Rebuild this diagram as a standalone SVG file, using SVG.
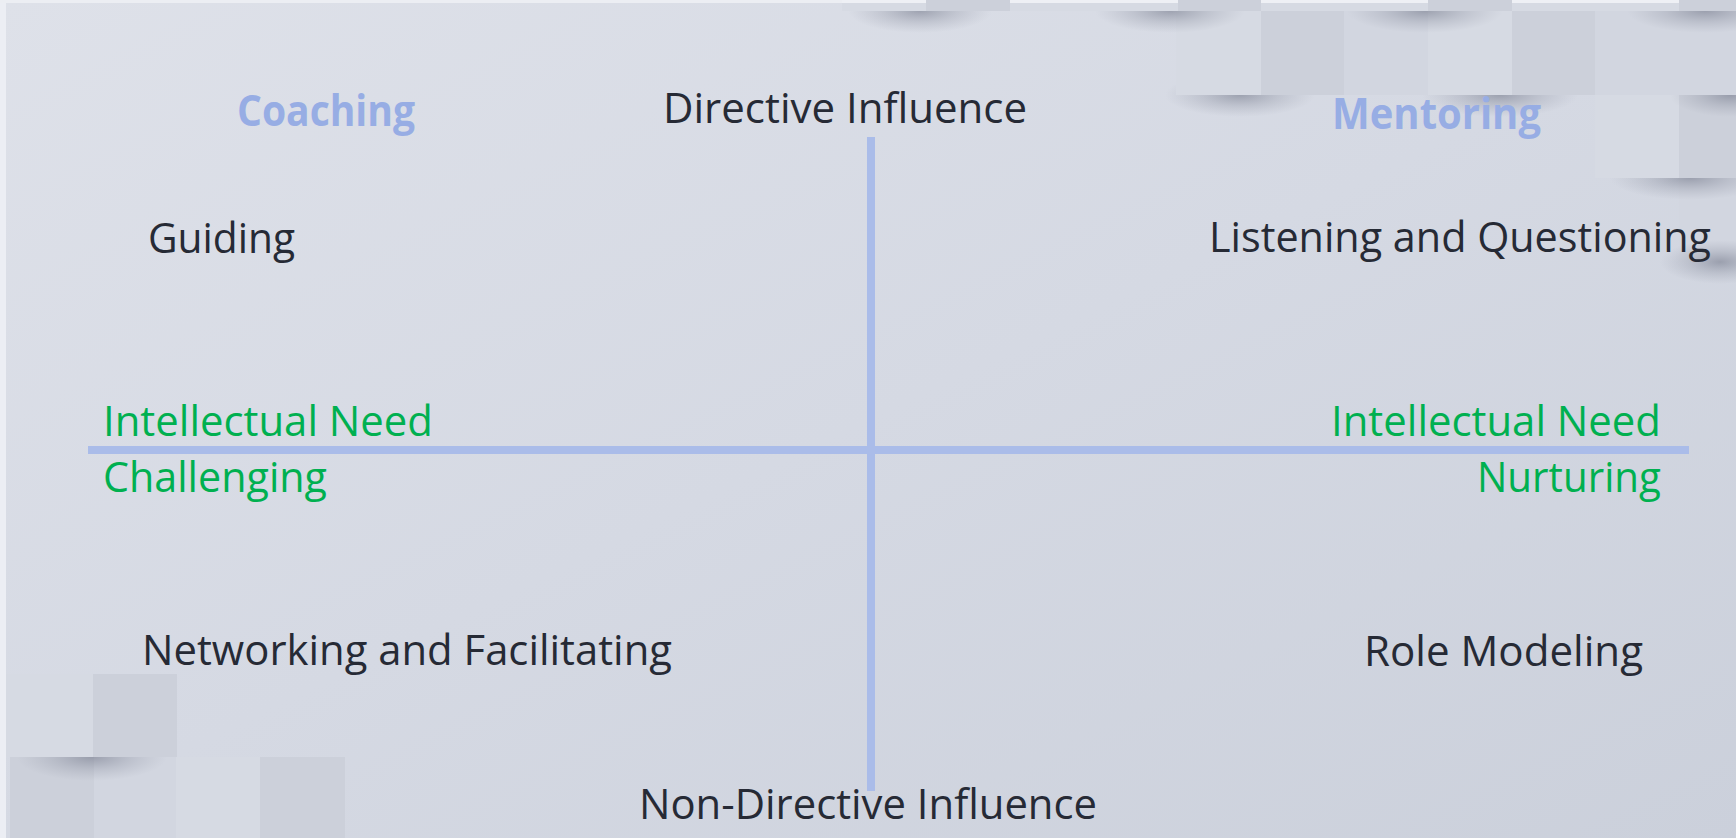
<svg xmlns="http://www.w3.org/2000/svg" width="1736" height="838" viewBox="0 0 1736 838">
  <defs>
    <linearGradient id="bg" x1="0" y1="0" x2="1" y2="1">
      <stop offset="0" stop-color="#DEE1E9"/>
      <stop offset="0.5" stop-color="#D5D9E3"/>
      <stop offset="1" stop-color="#CBD0DB"/>
    </linearGradient>
    <radialGradient id="sh" cx="0.5" cy="0.5" r="0.5">
      <stop offset="0" stop-color="#6E7385" stop-opacity="0.55"/>
      <stop offset="0.5" stop-color="#7A7F90" stop-opacity="0.25"/>
      <stop offset="1" stop-color="#8A8E9E" stop-opacity="0"/>
    </radialGradient>
    <style>
      .t { font-family: "Open Sans", "Noto Sans", "DejaVu Sans", sans-serif; font-size: 42px; fill: #262A35; }
      .b { font-family: "Open Sans", "Noto Sans", "DejaVu Sans", sans-serif; font-size: 43px; font-weight: bold; fill: #97ADE4; }
      .g { font-family: "Open Sans", "Noto Sans", "DejaVu Sans", sans-serif; font-size: 42px; fill: #00B050; }
      .axis { stroke: #AABCE9; stroke-width: 8; fill: none; }
      .l { fill: #D6DAE3; }
      .m { fill: #D2D6E0; }
      .d { fill: #CCD0DA; }
      .sh { fill: url(#sh); }
    </style>
  </defs>

  <!-- background -->
  <rect x="0" y="0" width="1736" height="838" fill="url(#bg)"/>
  <rect x="0" y="0" width="6" height="838" fill="#ECEEF4"/>
  <rect x="0" y="0" width="1736" height="3" fill="#ECEEF3"/>

  <!-- top-right decorative squares (bottom-up) -->
  <g id="deco-top-right">
    <rect class="m" x="1679" y="178" width="57" height="84"/>
    <ellipse class="sh" cx="1720" cy="262" rx="60" ry="22"/>
    <ellipse class="sh" cx="1690" cy="178" rx="80" ry="22"/>
    <rect class="l" x="1595" y="95" width="84" height="83"/>
    <rect class="d" x="1679" y="95" width="57" height="83"/>
    <ellipse class="sh" cx="1240" cy="95" rx="75" ry="22"/>
    <ellipse class="sh" cx="1500" cy="95" rx="78" ry="22"/>
    <ellipse class="sh" cx="1730" cy="95" rx="60" ry="22"/>
    <rect class="l" x="1176" y="11" width="85" height="84"/>
    <rect class="d" x="1261" y="11" width="83" height="84"/>
    <rect class="m" x="1344" y="11" width="84" height="84"/>
    <rect class="l" x="1428" y="11" width="84" height="84"/>
    <rect class="d" x="1512" y="11" width="83" height="84"/>
    <rect class="m" x="1595" y="11" width="84" height="84"/>
    <rect class="m" x="1679" y="11" width="57" height="84"/>
    <ellipse class="sh" cx="920" cy="11" rx="72" ry="22"/>
    <ellipse class="sh" cx="1170" cy="11" rx="75" ry="22"/>
    <ellipse class="sh" cx="1425" cy="11" rx="78" ry="22"/>
    <ellipse class="sh" cx="1705" cy="11" rx="78" ry="22"/>
    <rect class="l" x="842" y="0" width="84" height="11"/>
    <rect class="d" x="926" y="0" width="84" height="11"/>
    <rect class="l" x="1010" y="0" width="83" height="11"/>
    <rect class="l" x="1093" y="0" width="85" height="11"/>
    <rect class="d" x="1178" y="0" width="83" height="11"/>
    <rect class="l" x="1261" y="0" width="83" height="11"/>
    <rect class="l" x="1344" y="0" width="84" height="11"/>
    <rect class="d" x="1428" y="0" width="84" height="11"/>
    <rect class="l" x="1512" y="0" width="83" height="11"/>
    <rect class="l" x="1595" y="0" width="84" height="11"/>
    <rect class="d" x="1679" y="0" width="57" height="11"/>
    <rect x="842" y="0" width="84" height="3" fill="#EEF0F5"/>
    <rect x="1010" y="0" width="168" height="3" fill="#EEF0F5"/>
    <rect x="1261" y="0" width="167" height="3" fill="#EEF0F5"/>
    <rect x="1512" y="0" width="167" height="3" fill="#EEF0F5"/>
  </g>

  <!-- bottom-left decorative squares -->
  <g id="deco-bottom-left">
    <rect class="d" x="10" y="757" width="84" height="81"/>
    <rect class="m" x="94" y="757" width="82" height="81"/>
    <rect class="l" x="176" y="757" width="84" height="81"/>
    <rect class="d" x="260" y="757" width="85" height="81"/>
    <ellipse class="sh" cx="92" cy="757" rx="75" ry="24"/>
    <rect class="l" x="6" y="674" width="87" height="83"/>
    <rect class="d" x="93" y="674" width="84" height="83"/>
  </g>

  <!-- connectors: axes -->
  <g id="connectors">
    <line class="axis" x1="871" y1="137" x2="871" y2="791"/>
    <line class="axis" x1="88" y1="450" x2="1689" y2="450"/>
  </g>

  <g id="coaching"><text class="b" x="237" y="126" textLength="178" lengthAdjust="spacingAndGlyphs">Coaching</text></g>
  <g id="mentoring"><text class="b" x="1332" y="129" textLength="209" lengthAdjust="spacingAndGlyphs">Mentoring</text></g>
  <g id="directive"><text class="t" x="663" y="123" textLength="364" lengthAdjust="spacingAndGlyphs">Directive Influence</text></g>
  <g id="guiding"><text class="t" x="148" y="253" textLength="147" lengthAdjust="spacingAndGlyphs">Guiding</text></g>
  <g id="listening"><text class="t" x="1209" y="252" textLength="502" lengthAdjust="spacingAndGlyphs">Listening and Questioning</text></g>
  <g id="left-need">
    <text class="g" x="103" y="436" textLength="330" lengthAdjust="spacingAndGlyphs">Intellectual Need</text>
    <text class="g" x="103" y="492" textLength="224" lengthAdjust="spacingAndGlyphs">Challenging</text>
  </g>
  <g id="right-need">
    <text class="g" x="1331" y="436" textLength="330" lengthAdjust="spacingAndGlyphs">Intellectual Need</text>
    <text class="g" x="1477" y="492" textLength="184" lengthAdjust="spacingAndGlyphs">Nurturing</text>
  </g>
  <g id="networking"><text class="t" x="142" y="665" textLength="530" lengthAdjust="spacingAndGlyphs">Networking and Facilitating</text></g>
  <g id="role-modeling"><text class="t" x="1364" y="666" textLength="279" lengthAdjust="spacingAndGlyphs">Role Modeling</text></g>
  <g id="non-directive"><text class="t" x="639" y="819" textLength="458" lengthAdjust="spacingAndGlyphs">Non-Directive Influence</text></g>
</svg>
